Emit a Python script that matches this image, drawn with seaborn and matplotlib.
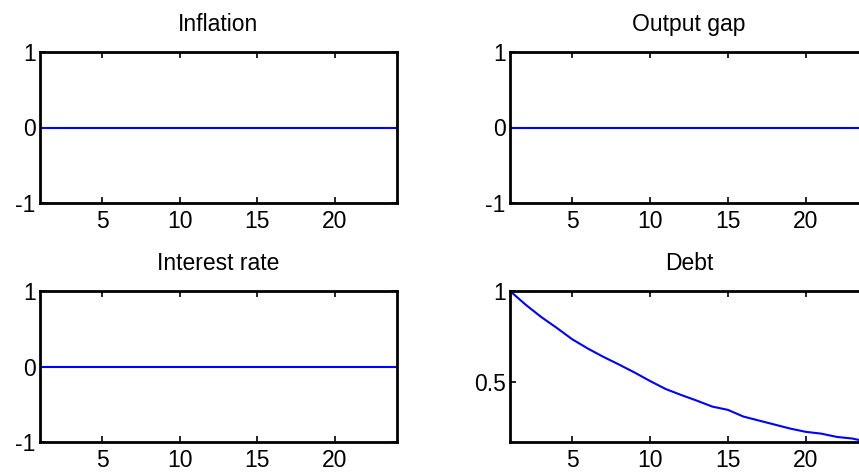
import matplotlib
matplotlib.use("Agg")
import matplotlib.pyplot as plt
import seaborn as sns
import pandas as pd

# Impulse responses over a 24-period horizon
periods = list(range(1, 25))
inflation = [0.0] * 24
output_gap = [0.0] * 24
interest_rate = [0.0] * 24
debt = [1.0, 0.925, 0.857, 0.797, 0.734, 0.683, 0.637, 0.595, 0.551, 0.504,
        0.460, 0.427, 0.396, 0.363, 0.345, 0.308, 0.286, 0.264, 0.242, 0.224,
        0.214, 0.196, 0.187, 0.168]

titles = ["Inflation", "Output gap", "Interest rate", "Debt"]
series = [inflation, output_gap, interest_rate, debt]
xticks = [5, 10, 15, 20]

sns.set_style("white")
plt.rcParams["font.family"] = ["Liberation Sans", "DejaVu Sans"]

W, H = 859, 475
fig = plt.figure(figsize=(W / 100, H / 100), dpi=100)

# axes boxes in pixel units: (left, top, right, bottom)
boxes = [(40, 52, 397, 203), (510, 52, 868, 203),
         (40, 291, 397, 442), (510, 291, 868, 442)]

FS = 16.5

for (l, t, r, b), title, vals in zip(boxes, titles, series):
    ax = fig.add_axes([l / W, 1 - b / H, (r - l) / W, (b - t) / H])
    df = pd.DataFrame({"period": periods, "value": vals})
    sns.lineplot(data=df, x="period", y="value", ax=ax, color="#0000ff",
                 linewidth=1.5)
    ax.set_xlim(1, 24)
    if title == "Debt":
        ax.set_ylim(min(vals), max(vals))
        ax.set_yticks([0.5, 1])
        ax.set_yticklabels(["0.5", "1"])
    else:
        ax.set_ylim(-1, 1)
        ax.set_yticks([-1, 0, 1])
        ax.set_yticklabels(["-1", "0", "1"])
    ax.set_xticks(xticks)
    ax.set_xlabel("")
    ax.set_ylabel("")
    ax.set_title(title, fontsize=FS, pad=15, color="black")
    for sp in ax.spines.values():
        sp.set_visible(True)
        sp.set_color("black")
        sp.set_linewidth(2)
    ax.tick_params(direction="in", length=4, width=1.2, colors="black",
                   labelsize=FS, top=True, right=True, bottom=True, left=True)
    ax.tick_params(axis="x", pad=5)
    ax.tick_params(axis="y", pad=3)
    ax.grid(False)

fig.savefig("out.png", dpi=100, facecolor="white")
